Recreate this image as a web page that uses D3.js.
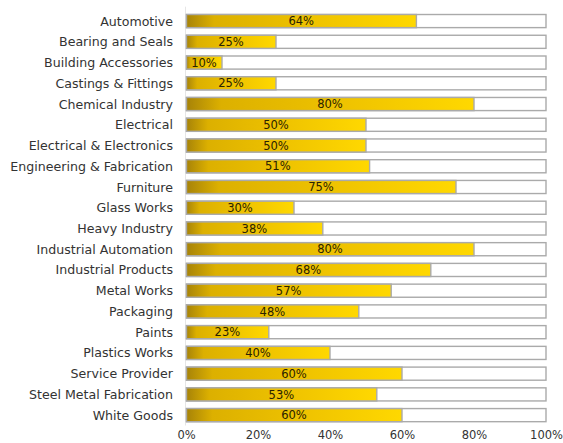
<!DOCTYPE html>
<html>
<head>
<meta charset="utf-8">
<script src="https://d3js.org/d3.v7.min.js"></script>
<style>
  body { margin: 0; background: #fff; }
  text { font-family: "DejaVu Sans", sans-serif; }
</style>
</head>
<body>
<div id="vis"></div>
<script>
// industries and their shares
var categories = ["Automotive", "Bearing and Seals", "Building Accessories", "Castings & Fittings",
  "Chemical Industry", "Electrical", "Electrical & Electronics", "Engineering & Fabrication",
  "Furniture", "Glass Works", "Heavy Industry", "Industrial Automation", "Industrial Products",
  "Metal Works", "Packaging", "Paints", "Plastics Works", "Service Provider",
  "Steel Metal Fabrication", "White Goods"];
var values = [64, 25, 10, 25, 80, 50, 50, 51, 75, 30, 38, 80, 68, 57, 48, 23, 40, 60, 53, 60];
var ticks = [0, 20, 40, 60, 80, 100];

var margin = {top: 10.7, right: 17, bottom: 17.5, left: 186},
  width = 563 - margin.left - margin.right,
  height = 443 - margin.top - margin.bottom;

var svg = d3.select("#vis").append("svg")
  .attr("width", 563).attr("height", 443);

var defs = svg.append("defs");
var grad = defs.append("linearGradient")
  .attr("id", "gold")
  .attr("x1", "0%").attr("x2", "100%").attr("y1", "0%").attr("y2", "0%");
grad.append("stop").attr("offset", "0%").attr("stop-color", "#a78308");
grad.append("stop").attr("offset", "12%").attr("stop-color", "#dcb000");
grad.append("stop").attr("offset", "55%").attr("stop-color", "#efc300");
grad.append("stop").attr("offset", "100%").attr("stop-color", "#ffd800");

var g = svg.append("g")
  .attr("transform", "translate(" + margin.left + "," + margin.top + ")");

var x = d3.scaleLinear().domain([0, 100]).range([0, width]);
var y = d3.scaleBand().domain(categories).range([0, height]).paddingInner(0.32).paddingOuter(0.16);

// faint left line
g.append("line")
  .attr("x1", -0.5).attr("x2", -0.5)
  .attr("y1", -4).attr("y2", height)
  .attr("stroke", "#e6e6e6");

var row = g.selectAll(".row").data(categories).enter().append("g")
  .attr("class", "row")
  .attr("transform", function(d) { return "translate(0," + y(d) + ")"; });

row.append("rect")
  .attr("x", 0.5).attr("y", 0.5)
  .attr("width", x(100) - 0.5)
  .attr("height", y.bandwidth() - 1)
  .attr("fill", "#fff")
  .attr("stroke", "#aaa")
  .attr("stroke-width", 1.4);

row.append("rect")
  .attr("x", 0.5).attr("y", 0.5)
  .attr("width", function(d, i) { return x(values[i]) - 0.5; })
  .attr("height", y.bandwidth() - 1)
  .attr("fill", "url(#gold)")
  .attr("stroke", "#aaa")
  .attr("stroke-width", 1.4);

row.append("text")
  .attr("x", function(d, i) { return x(values[i]) / 2; })
  .attr("y", y.bandwidth() / 2)
  .attr("dy", "0.36em")
  .attr("text-anchor", "middle")
  .attr("font-size", 11.5)
  .attr("fill", "#2a2200")
  .text(function(d, i) { return values[i] + "%"; });

// category labels
g.selectAll(".lab").data(categories).enter().append("text")
  .attr("class", "lab")
  .attr("x", -13)
  .attr("y", function(d) { return y(d) + y.bandwidth() / 2; })
  .attr("dy", "0.36em")
  .attr("text-anchor", "end")
  .attr("font-size", 12.6)
  .attr("fill", "#333")
  .text(function(d) { return d; });

// bottom axis
var axis = g.append("g")
  .attr("transform", "translate(0," + height + ")")
  .call(d3.axisBottom(x).tickValues(ticks).tickSize(0).tickPadding(5)
    .tickFormat(function(d) { return d + "%"; }));
axis.select(".domain").remove();
axis.selectAll("text")
  .attr("font-family", "DejaVu Sans, sans-serif")
  .attr("font-size", 11.5)
  .attr("fill", "#333");
</script>
</body>
</html>
